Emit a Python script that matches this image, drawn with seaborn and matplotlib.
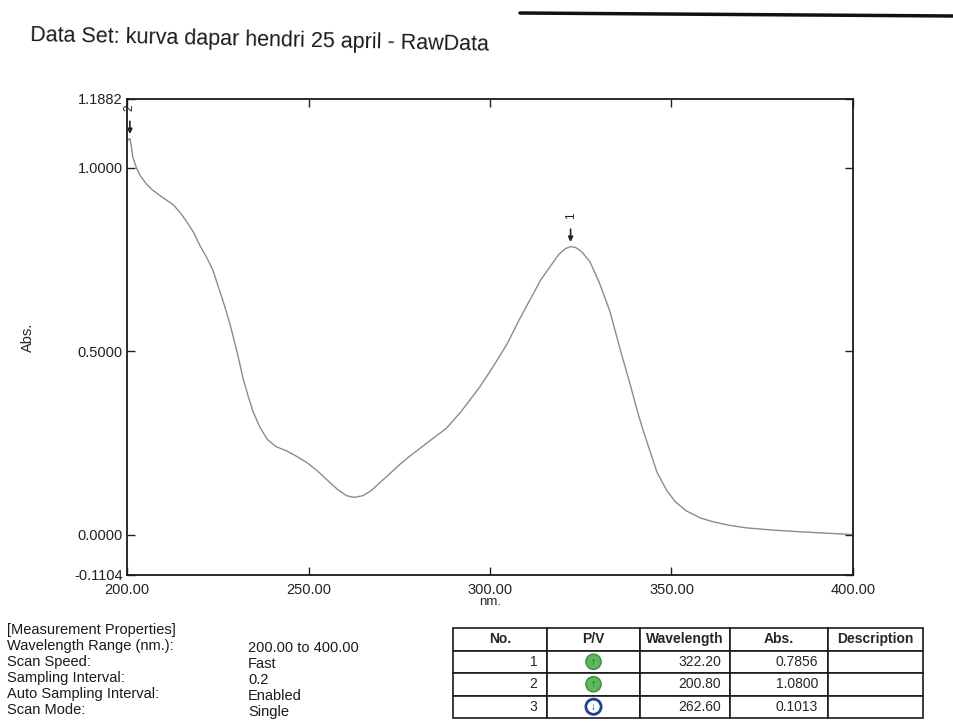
import numpy as np
import pandas as pd
import matplotlib
matplotlib.use('Agg')
import matplotlib.pyplot as plt
from matplotlib.lines import Line2D
import seaborn as sns

# spectrum (nm, Abs.)
wavelength = [200.0, 200.4, 200.8, 201.2, 201.6, 202.6, 203.6, 205.2, 207.0, 209.5,
              212.7, 214.5, 216.5, 218.3, 220.0, 222.0, 223.7, 225.6, 227.0, 228.4,
              230.3, 232.0, 233.3, 234.7, 236.5, 238.6, 241.0, 244.0, 246.8, 249.6,
              252.3, 255.0, 258.0, 260.5, 262.6, 265.0, 267.3, 269.7, 272.3, 275.0,
              277.8, 280.7, 284.0, 288.0, 292.0, 297.0, 301.0, 304.7, 308.0, 311.0,
              314.0, 316.5, 319.0, 320.8, 322.2, 323.6, 325.2, 327.5, 330.0, 333.0,
              336.0, 338.6, 340.5, 342.0, 344.0, 346.0, 348.7, 351.0, 354.0, 358.0,
              361.4, 366.0, 370.8, 378.0, 384.6, 392.0, 400.0]
absorbance = [1.070, 1.078, 1.080, 1.060, 1.030, 1.000, 0.980, 0.958, 0.940, 0.922,
              0.900, 0.880, 0.853, 0.825, 0.790, 0.755, 0.720, 0.663, 0.620, 0.573,
              0.499, 0.425, 0.380, 0.336, 0.295, 0.260, 0.240, 0.228, 0.213, 0.196,
              0.175, 0.150, 0.123, 0.106, 0.1013, 0.106, 0.120, 0.142, 0.165, 0.190,
              0.213, 0.235, 0.260, 0.290, 0.335, 0.400, 0.460, 0.520, 0.585, 0.640,
              0.695, 0.730, 0.765, 0.780, 0.7856, 0.783, 0.772, 0.745, 0.690, 0.610,
              0.500, 0.410, 0.340, 0.290, 0.230, 0.170, 0.120, 0.090, 0.065, 0.045,
              0.035, 0.025, 0.018, 0.012, 0.008, 0.004, 0.000]

# peak / valley table
peak_no = [1, 2, 3]
peak_type = ['P', 'P', 'V']
peak_wl = [322.20, 200.80, 262.60]
peak_abs = [0.7856, 1.0800, 0.1013]

y_min, y_max = -0.1104, 1.1882
x_ticks = [200, 250, 300, 350, 400]
y_ticks = [y_min, 0.0, 0.5, 1.0, y_max]

prop_labels = ['Wavelength Range (nm.):', 'Scan Speed:', 'Sampling Interval:',
               'Auto Sampling Interval:', 'Scan Mode:']
prop_values = ['200.00 to 400.00', 'Fast', '0.2', 'Enabled', 'Single']

sns.set_style('ticks')
plt.rcParams['font.family'] = ['Liberation Sans', 'DejaVu Sans']

W, H = 954, 724
fig = plt.figure(figsize=(W / 100, H / 100), dpi=100)

# main spectrum axes
ax = fig.add_axes([127 / W, 1 - 575 / H, (853 - 127) / W, (575 - 99) / H])
df = pd.DataFrame({'nm': wavelength, 'Abs': absorbance})
sns.lineplot(data=df, x='nm', y='Abs', ax=ax, color='#8c8c8c', lw=1.0)

ax.set_xlim(200, 400)
ax.set_ylim(y_min, y_max)
ax.set_xticks(x_ticks)
ax.set_xticklabels([f'{t:.2f}' for t in x_ticks])
ax.set_yticks(y_ticks)
ax.set_yticklabels([f'{t:.4f}' for t in y_ticks])
ax.tick_params(direction='in', length=6, width=1, top=True, right=True,
               labelsize=10.5, pad=3, colors='#222222')
ax.tick_params(axis='x', pad=6)
for sp in ax.spines.values():
    sp.set_linewidth(1.3)
    sp.set_color('#1a1a1a')
ax.set_xlabel('nm.', fontsize=9.5, labelpad=-1)
ax.set_ylabel('Abs.', fontsize=10.5, labelpad=28)

# peak markers
for no, kind, wl, ab in zip(peak_no, peak_type, peak_wl, peak_abs):
    if kind != 'P':
        continue
    ax.annotate('', xy=(wl, ab + 0.005), xytext=(wl, ab + 0.055),
                arrowprops=dict(arrowstyle='-|>', color='#222222', lw=1.2,
                                mutation_scale=7))
    ax.text(wl, ab + 0.085, str(no), rotation=90, ha='center', va='center',
            fontsize=8.5, color='#222222')

fig.text(30 / W, 1 - 40 / H, 'Data Set: kurva dapar hendri 25 april - RawData',
         fontsize=15.5, rotation=-1.2, va='center', ha='left', color='#1a1a1a')

# paper edge at the top right
fig.add_artist(Line2D([520 / W, 1.0], [1 - 13 / H, 1 - 16 / H],
                      color='#111111', lw=2.5))

# measurement properties block
fig.text(7 / W, 1 - 630 / H, '[Measurement Properties]', fontsize=10.5,
         va='center', color='#1a1a1a')
for i, (lab, val) in enumerate(zip(prop_labels, prop_values)):
    yy = 1 - (646 + i * 16.0) / H
    fig.text(7 / W, yy, lab, fontsize=10.5, va='center', color='#1a1a1a')
    fig.text(248 / W, yy - 2 / H, val, fontsize=10.5, va='center', color='#1a1a1a')

# peak table
tax = fig.add_axes([453 / W, 1 - 718 / H, (923 - 453) / W, (718 - 628) / H])
tax.set_xlim(0, 1)
tax.set_ylim(0, 1)
tax.axis('off')
col_labels = ['No.', 'P/V', 'Wavelength', 'Abs.', 'Description']
col_widths = [94, 93, 90, 98, 95]
col_widths = [c / sum(col_widths) for c in col_widths]
cells = [[str(n), '', f'{w:.2f}', f'{a:.4f}', ''] for n, w, a in zip(peak_no, peak_wl, peak_abs)]
tbl = tax.table(cellText=cells, colLabels=col_labels, colWidths=col_widths,
                cellLoc='right', bbox=[0, 0, 1, 1])
tbl.auto_set_font_size(False)
tbl.set_fontsize(10)
for (r, c), cell in tbl.get_celld().items():
    cell.set_linewidth(1.2)
    cell.set_edgecolor('#1a1a1a')
    if r == 0:
        cell.set_text_props(weight='bold', ha='center')
        cell._loc = 'center'

# P/V icons
n_rows = len(peak_no) + 1
pv_x = col_widths[0] + col_widths[1] / 2
for i, kind in enumerate(peak_type):
    cy = 1 - (i + 1.5) / n_rows
    if kind == 'P':
        tax.text(pv_x, cy, '↑', ha='center', va='center', fontsize=7.5,
                 color='#1f5f1f', weight='bold',
                 bbox=dict(boxstyle='circle,pad=0.25', fc='#5cb85c', ec='#3d8b3d', lw=1))
    else:
        tax.text(pv_x, cy, '↓', ha='center', va='center', fontsize=7.5,
                 color='#1d3f9a', weight='bold',
                 bbox=dict(boxstyle='circle,pad=0.25', fc='white', ec='#1d3f9a', lw=2))

fig.savefig('out.png', dpi=100)
